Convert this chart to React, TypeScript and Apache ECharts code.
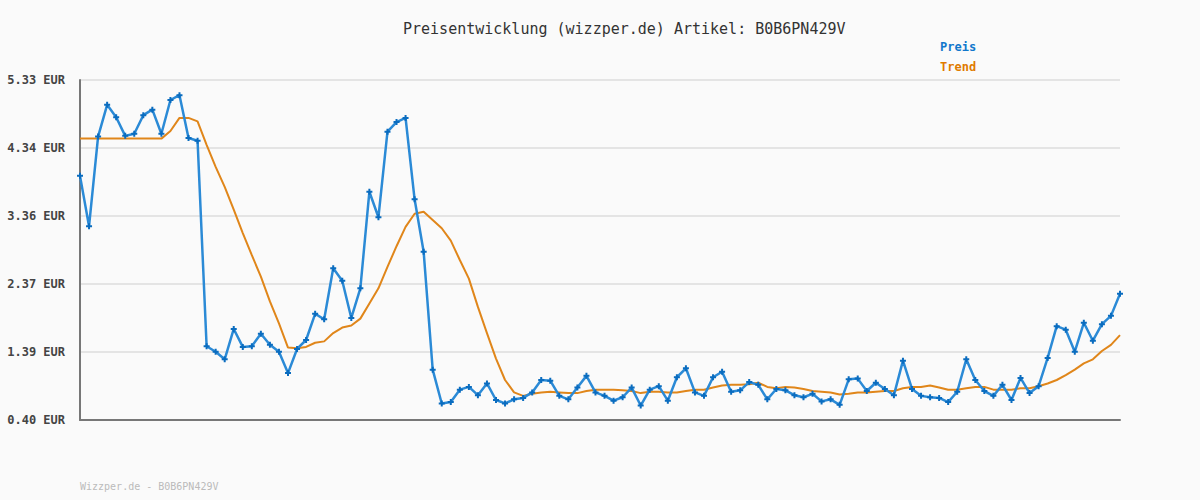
import React, { useEffect, useRef } from "react";
import * as echarts from "echarts";

const TITLE = "Preisentwicklung (wizzper.de) Artikel: B0B6PN429V";
const FOOTER = "Wizzper.de - B0B6PN429V";
const Y_MIN = 0.4;
const Y_MAX = 5.33;
const Y_INTERVAL = 0.986;

const preis = [
  3.94, 3.21, 4.51, 4.97, 4.79, 4.52, 4.55, 4.82, 4.9, 4.55,
  5.04, 5.11, 4.49, 4.45, 1.47, 1.39, 1.28, 1.72, 1.46, 1.47,
  1.65, 1.49, 1.39, 1.08, 1.43, 1.56, 1.94, 1.86, 2.6, 2.42,
  1.88, 2.31, 3.71, 3.34, 4.58, 4.72, 4.78, 3.6, 2.84, 1.13,
  0.64, 0.66, 0.84, 0.88, 0.76, 0.93, 0.69, 0.64, 0.7, 0.72,
  0.8, 0.98, 0.97, 0.75, 0.7, 0.87, 1.04, 0.8, 0.75, 0.68,
  0.73, 0.87, 0.61, 0.84, 0.89, 0.68, 1.02, 1.15, 0.8, 0.75,
  1.02, 1.1, 0.81, 0.83, 0.95, 0.91, 0.7, 0.85, 0.83, 0.76,
  0.73, 0.78, 0.67, 0.7, 0.62, 0.99, 1.0, 0.82, 0.94, 0.85,
  0.76, 1.26, 0.85, 0.75, 0.73, 0.72, 0.66, 0.81, 1.28, 0.98,
  0.82, 0.75, 0.91, 0.69, 1.01, 0.79, 0.89, 1.3, 1.76, 1.71,
  1.39, 1.81, 1.55, 1.79, 1.91, 2.23,
];

const trend = [
  4.48, 4.48, 4.48, 4.48, 4.48, 4.48, 4.48, 4.48, 4.48, 4.48,
  4.59, 4.78, 4.78, 4.73, 4.39, 4.07, 3.78, 3.45, 3.11, 2.79,
  2.48, 2.12, 1.8, 1.45, 1.44, 1.46, 1.52, 1.54, 1.66, 1.74,
  1.77, 1.87, 2.09, 2.31, 2.62, 2.92, 3.2, 3.39, 3.42, 3.3,
  3.18, 3.0, 2.72, 2.45, 2.04, 1.66, 1.29, 0.98, 0.8, 0.75,
  0.78, 0.8, 0.81, 0.8, 0.79, 0.79, 0.82, 0.84, 0.84, 0.84,
  0.83, 0.82, 0.79, 0.81, 0.81, 0.8, 0.8, 0.82, 0.84, 0.84,
  0.87, 0.9, 0.91, 0.91, 0.92, 0.94, 0.88, 0.86, 0.88, 0.87,
  0.85, 0.82, 0.81, 0.8, 0.77, 0.78, 0.8, 0.8, 0.81, 0.82,
  0.82, 0.86, 0.88, 0.88, 0.9, 0.87, 0.84, 0.84, 0.86, 0.88,
  0.88, 0.84, 0.84, 0.84, 0.86, 0.86, 0.89, 0.93, 0.98, 1.05,
  1.13, 1.22, 1.28, 1.4, 1.49, 1.63,
];

const categories = preis.map((_, i) => String(i + 1));

const MONO = "'DejaVu Sans Mono', 'Liberation Mono', monospace";
const PREIS_LINE = "#2b8ad6";
const PREIS_MARK = "#0a6cbf";
const TREND_COLOR = "#e0861a";

export default function App() {
  const ref = useRef<HTMLDivElement>(null);

  useEffect(() => {
    document.body.style.margin = "0";
    if (!ref.current) return;
    const chart = echarts.init(ref.current, null, { renderer: "svg" });
    chart.setOption({
      animation: false,
      backgroundColor: "#fafafa",
      title: {
        text: TITLE,
        left: 398,
        top: 16,
        textStyle: {
          fontFamily: MONO,
          fontSize: 15,
          fontWeight: "normal",
          color: "#333333",
        },
      },
      legend: {
        orient: "vertical",
        left: 930,
        top: 35,
        icon: "none",
        itemWidth: 0,
        itemHeight: 14,
        itemGap: 7,
        selectedMode: false,
        data: [
          { name: "Preis", textStyle: { color: "#1177cc" } },
          { name: "Trend", textStyle: { color: "#e07b00" } },
        ],
        textStyle: {
          fontFamily: MONO,
          fontSize: 12,
          fontWeight: "bold",
        },
      },
      graphic: [
        {
          type: "text",
          left: 80,
          top: 481,
          style: {
            text: FOOTER,
            fontFamily: MONO,
            fontSize: 10,
            fill: "#bbbbbb",
          },
        },
      ],
      grid: { left: 80, right: 80, top: 80, bottom: 80, containLabel: false },
      xAxis: {
        type: "category",
        data: categories,
        boundaryGap: false,
        axisLine: { show: true, lineStyle: { color: "#777777", width: 2 } },
        axisTick: { show: false },
        axisLabel: { show: false },
        splitLine: { show: false },
      },
      yAxis: {
        type: "value",
        min: Y_MIN,
        max: Y_MAX,
        interval: Y_INTERVAL,
        axisLine: { show: true, lineStyle: { color: "#777777", width: 2 } },
        axisTick: { show: false },
        splitLine: { show: true, lineStyle: { color: "#e4e4e4", width: 2 } },
        axisLabel: {
          margin: 15,
          fontFamily: MONO,
          fontSize: 12,
          fontWeight: "bold",
          color: "#444444",
          formatter: (v: number) => v.toFixed(2) + " EUR",
        },
      },
      series: [
        {
          name: "Preis",
          type: "line",
          data: preis,
          color: PREIS_LINE,
          lineStyle: { color: PREIS_LINE, width: 2.5 },
          symbol: "path://M2,0H4V2H6V4H4V6H2V4H0V2H2Z",
          symbolSize: 6,
          showSymbol: true,
          showAllSymbol: true,
          itemStyle: { color: PREIS_MARK },
          z: 3,
        },
        {
          name: "Trend",
          type: "line",
          data: trend,
          color: TREND_COLOR,
          lineStyle: { color: TREND_COLOR, width: 2 },
          symbol: "none",
          showSymbol: false,
          z: 2,
        },
      ],
    });
    return () => chart.dispose();
  }, []);

  return <div ref={ref} style={{ width: 1200, height: 500 }} />;
}
